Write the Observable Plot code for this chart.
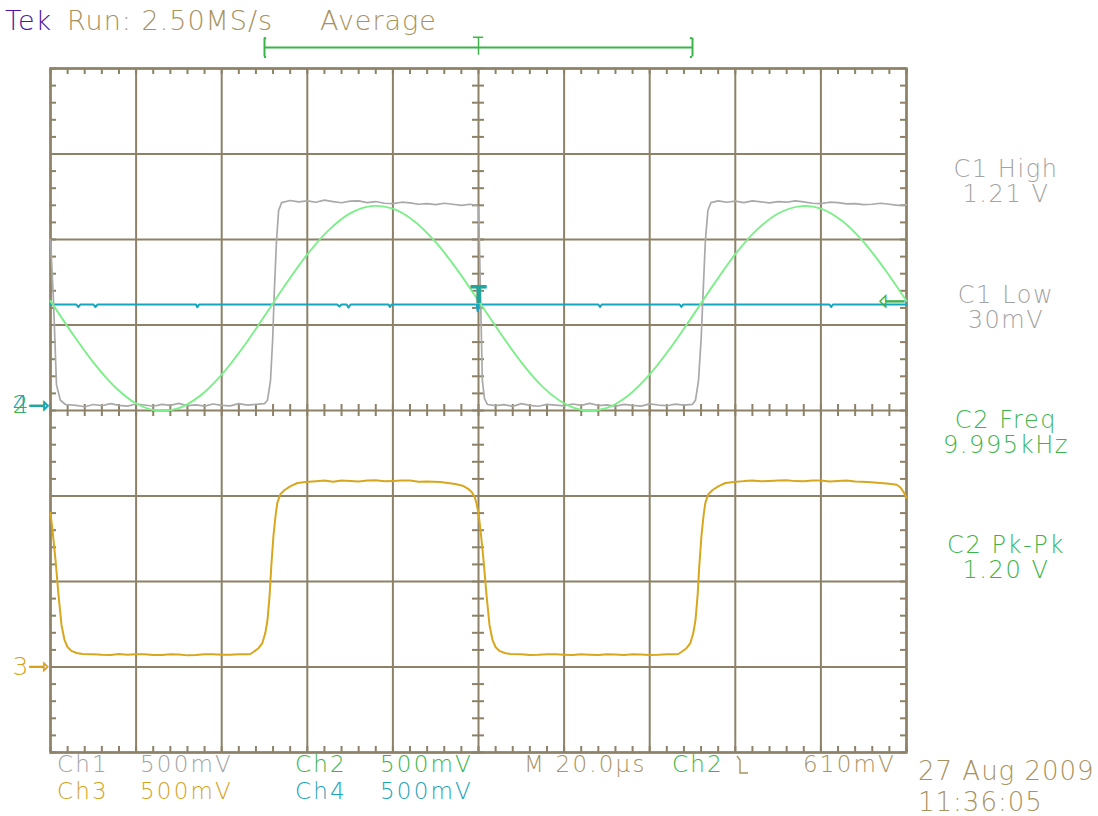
<!DOCTYPE html>
<html>
<head>
<meta charset="utf-8">
<script src="https://cdn.jsdelivr.net/npm/d3@7"></script>
<script src="https://cdn.jsdelivr.net/npm/@observablehq/plot@0.6"></script>
<style>
  body { margin: 0; background: #ffffff; }
  #scope { position: relative; width: 1098px; height: 816px; overflow: hidden;
           font-family: "DejaVu Sans", "Liberation Sans", sans-serif; font-weight: 200; }
  #scope > svg { position: absolute; left: 0; top: 0; }
  .lbl { position: absolute; line-height: 0.8; white-space: pre; letter-spacing: 1px; }
  .ctr { transform: translateX(-50%); text-align: center; }
</style>
</head>
<body>
<div id="scope"></div>
<script>
// Acquisition settings
const voltsPerDiv = 0.5;          // all four channels at 500 mV/div
const timePerDiv = 20;            // µs/div
const triggerTime = 100;          // µs, centre of the screen
const triggerLevel = 0.61;        // V on Ch2, falling edge
const recordWindow = [50, 150];   // µs, bracket shown above the graticule

// Channel names, trace colours and ground positions (in divisions)
const channelNames = ["Ch1", "Ch2", "Ch3", "Ch4"];
const channelColors = ["#a9a9a9", "#7cef89", "#d8a71e", "#15a6bf"];
const channelPositions = [0, 0.06, -3, 0.06];

// Automatic measurements shown at the right
const measureLabels = ["C1 High", "C1 Low", "C2 Freq", "C2 Pk-Pk"];
const measureValues = ["1.21 V", "30mV", "9.995kHz", "1.20 V"];

// Ch1: square wave, [time µs, volts]
const ch1 = [
  [0, 1.00], [0.7, 0.64], [1.4, 0.15], [2.3, 0.06], [3.5, 0.035],
  [6, 0.03], [8, 0.022], [10, 0.035], [12, 0.028], [14, 0.04], [16, 0.03], [18, 0.026], [20, 0.038],
  [22, 0.032], [24, 0.025], [26, 0.036], [28, 0.03], [30, 0.042], [32, 0.028], [34, 0.033], [36, 0.026],
  [38, 0.038], [40, 0.03], [42, 0.027], [44, 0.04], [46, 0.031], [48, 0.036], [50, 0.04],
  [50.7, 0.06], [51.4, 0.175], [51.9, 0.41], [52.3, 0.70], [52.8, 0.99], [53.3, 1.17], [54, 1.216],
  [56, 1.228], [58, 1.22], [60, 1.226], [62, 1.218], [64, 1.23], [66, 1.222], [68, 1.215], [70, 1.224],
  [72, 1.226], [74, 1.216], [76, 1.222], [78, 1.212], [80, 1.21], [82, 1.218], [84, 1.214], [86, 1.206],
  [88, 1.21], [90, 1.204], [92, 1.212], [94, 1.206], [96, 1.2], [98, 1.206], [99.6, 1.2],
  [100, 1.19], [100.2, 0.99], [100.5, 0.64], [100.9, 0.175], [101.4, 0.07], [102.1, 0.035],
  [104, 0.028], [106, 0.034], [108, 0.024], [110, 0.04], [112, 0.03], [114, 0.025], [116, 0.036],
  [118, 0.031], [120, 0.027], [122, 0.038], [124, 0.03], [126, 0.042], [128, 0.029], [130, 0.033],
  [132, 0.025], [134, 0.036], [136, 0.03], [138, 0.026], [140, 0.039], [142, 0.032], [144, 0.028],
  [146, 0.037], [148, 0.031], [150, 0.036],
  [150.7, 0.06], [151.4, 0.175], [152, 0.41], [152.5, 0.70], [153, 0.99], [153.6, 1.17], [154.3, 1.216],
  [156, 1.226], [158, 1.218], [160, 1.224], [162, 1.216], [164, 1.226], [166, 1.22], [168, 1.214],
  [170, 1.222], [172, 1.218], [174, 1.226], [176, 1.22], [178, 1.212], [180, 1.21], [182, 1.218],
  [184, 1.216], [186, 1.208], [188, 1.21], [190, 1.204], [192, 1.206], [194, 1.212], [196, 1.206],
  [198, 1.2], [200, 1.202]
];

// Ch2: sine wave, [time µs, volts]
const ch2 = [
  [0, 0.611], [5, 0.424], [10, 0.251], [15, 0.109], [20, 0.011], [25, -0.031], [30, -0.016],
  [35, 0.057], [40, 0.180], [45, 0.340], [50, 0.523], [55, 0.710], [60, 0.883], [65, 1.025],
  [70, 1.123], [75, 1.165], [80, 1.150], [85, 1.077], [90, 0.954], [95, 0.794], [100, 0.611],
  [105, 0.426], [110, 0.252], [115, 0.108], [120, 0.012], [125, -0.030], [130, -0.015],
  [135, 0.058], [140, 0.181], [145, 0.341], [150, 0.522], [155, 0.709], [160, 0.884], [165, 1.026],
  [170, 1.122], [175, 1.164], [180, 1.151], [185, 1.078], [190, 0.955], [195, 0.793], [200, 0.610]
];

// Ch3: filtered square wave, [time µs, volts]
const ch3 = [
  [0, 0.90], [0.47, 0.80], [1.17, 0.626], [1.87, 0.42], [2.57, 0.246], [3.27, 0.158], [3.97, 0.117],
  [4.9, 0.094], [6.1, 0.082], [7.5, 0.076],
  [10, 0.074], [12, 0.071], [14, 0.07], [16, 0.076], [18, 0.072], [20, 0.074], [22, 0.075], [24, 0.07],
  [26, 0.07], [28, 0.074], [30, 0.073], [32, 0.068], [34, 0.07], [36, 0.075], [38, 0.074], [40, 0.071],
  [42, 0.072], [44, 0.075], [46, 0.074],
  [46.7, 0.076], [47.4, 0.088], [48.6, 0.11], [49.5, 0.14], [50.2, 0.20], [50.7, 0.275], [51.2, 0.42],
  [51.6, 0.596], [52.1, 0.77], [52.6, 0.889], [53, 0.96], [53.7, 1.01], [54.7, 1.035], [56.1, 1.058],
  [57.7, 1.076], [59.6, 1.082],
  [62, 1.086], [64, 1.09], [66, 1.084], [68, 1.09], [70, 1.087], [72, 1.085], [74, 1.09], [76, 1.092],
  [78, 1.086], [80, 1.088], [82, 1.091], [84, 1.09], [86, 1.084], [88, 1.085], [91.1, 1.082],
  [94.6, 1.07], [96.5, 1.058], [97.7, 1.04], [98.4, 1.023], [99.1, 0.994], [99.5, 0.96],
  [100, 0.90], [100.47, 0.80], [101.17, 0.626], [101.87, 0.42], [102.57, 0.246], [103.27, 0.158],
  [103.97, 0.117], [104.9, 0.094], [106.1, 0.082], [107.5, 0.076],
  [110, 0.074], [112, 0.07], [114, 0.071], [116, 0.075], [118, 0.075], [120, 0.072], [122, 0.07],
  [124, 0.074], [126, 0.072], [128, 0.07], [130, 0.074], [132, 0.073], [134, 0.07], [136, 0.075],
  [138, 0.073], [140, 0.07], [142, 0.071], [144, 0.074], [146, 0.075],
  [146.7, 0.076], [147.4, 0.088], [148.6, 0.11], [149.5, 0.14], [150.2, 0.20], [150.7, 0.275],
  [151.2, 0.42], [151.6, 0.596], [152.1, 0.77], [152.6, 0.889], [153, 0.96], [153.7, 1.01],
  [154.7, 1.035], [156.1, 1.058], [157.7, 1.076], [159.6, 1.082],
  [162, 1.087], [164, 1.09], [166, 1.086], [168, 1.088], [170, 1.091], [172, 1.092], [174, 1.087],
  [176, 1.086], [178, 1.09], [180, 1.09], [182, 1.085], [184, 1.088], [186, 1.09], [188, 1.085],
  [191, 1.082], [194.6, 1.075], [196.5, 1.07], [197.7, 1.066], [198.6, 1.05], [199.4, 1.02], [200, 0.99]
];

// Ch4: DC level with small glitches, [time µs, volts]
const ch4 = [
  [0, 0.59], [6, 0.59], [6.5, 0.575], [7, 0.59], [10, 0.59], [10.5, 0.575], [11, 0.59],
  [34, 0.59], [34.3, 0.574], [34.7, 0.59], [67, 0.59], [67.5, 0.578], [68, 0.59],
  [69.2, 0.59], [69.6, 0.572], [70.1, 0.59], [79, 0.59], [79.3, 0.575], [79.7, 0.59],
  [99.6, 0.59], [99.8, 0.55], [100.1, 0.59],
  [128, 0.59], [128.4, 0.575], [128.8, 0.59], [147, 0.59], [147.4, 0.576], [147.8, 0.59],
  [182, 0.59], [182.4, 0.575], [182.8, 0.59], [200, 0.59]
];

// Graticule: 10 x 8 divisions, five minor ticks per division
const majorT = d3.range(0, 201, timePerDiv);
const majorY = d3.range(-4, 5, 1);
const minorT = d3.range(0, 200.001, timePerDiv / 5);
const minorY = d3.range(-4, 4.001, 0.2);

const gridColor = "#8d8268";
const tan = "#a8925e";
const textGreen = "#3cb44a";
const textGray = "#a3a3a3";
const textYellow = "#d5a21b";
const textCyan = "#1ba3b8";

// Convert channel samples to screen divisions
const traces = [ch1, ch2, ch3, ch4].map((samples, i) =>
  samples.map(([t, v]) => ({t, y: channelPositions[i] + v / voltsPerDiv, ch: channelNames[i]}))
);
const trigDiv = channelPositions[1] + triggerLevel / voltsPerDiv;

// Ground reference markers at the left edge
const groundMarkers = [
  {label: "2", y: channelPositions[1], color: textGreen},
  {label: "4", y: channelPositions[3], color: textCyan},
  {label: "3", y: channelPositions[2], color: textYellow}
];

const tickDivY = 6 / 85.5;      // minor tick length in divisions (vertical)
const tickDivT = 6 * 200 / 856; // minor tick length in µs (horizontal)
const barY = 4.245;             // record-window bar above the graticule

const plot = Plot.plot({
  width: 1098,
  height: 816,
  marginLeft: 50,
  marginRight: 192,
  marginTop: 68,
  marginBottom: 64,
  x: {domain: [0, 200], axis: null},
  y: {domain: [-4, 4], axis: null},
  style: {background: "transparent", overflow: "visible", fontFamily: "DejaVu Sans", fontWeight: 200},
  marks: [
    // major graticule
    Plot.ruleX(majorT, {stroke: gridColor, strokeWidth: 2}),
    Plot.ruleY(majorY, {stroke: gridColor, strokeWidth: 2}),
    // minor ticks on the border and the centre axes
    Plot.ruleX(minorT, {x: d => d, y1: 4, y2: 4 - tickDivY, stroke: gridColor, strokeWidth: 2}),
    Plot.ruleX(minorT, {x: d => d, y1: -4, y2: -4 + tickDivY, stroke: gridColor, strokeWidth: 2}),
    Plot.ruleX(minorT, {x: d => d, y1: -tickDivY, y2: tickDivY, stroke: gridColor, strokeWidth: 2}),
    Plot.ruleY(minorY, {y: d => d, x1: 0, x2: tickDivT, stroke: gridColor, strokeWidth: 2}),
    Plot.ruleY(minorY, {y: d => d, x1: 200, x2: 200 - tickDivT, stroke: gridColor, strokeWidth: 2}),
    Plot.ruleY(minorY, {y: d => d, x1: 100 - tickDivT, x2: 100 + tickDivT, stroke: gridColor, strokeWidth: 2}),
    Plot.frame({stroke: gridColor, strokeWidth: 2.5}),

    // waveforms
    Plot.line(traces[3], {x: "t", y: "y", stroke: channelColors[3], strokeWidth: 2}),
    Plot.line(traces[0], {x: "t", y: "y", stroke: channelColors[0], strokeWidth: 1.7}),
    Plot.line(traces[1], {x: "t", y: "y", stroke: channelColors[1], strokeWidth: 1.9, curve: "catmull-rom"}),
    Plot.line(traces[2], {x: "t", y: "y", stroke: channelColors[2], strokeWidth: 2}),

    // trigger point on the trace and trigger level arrow on the right edge
    Plot.text([triggerTime], {x: d => d, y: trigDiv, text: () => "T", lineAnchor: "bottom",
      fill: "#1fa69a", fontSize: 24, fontWeight: 700, dy: 2}),
    Plot.text([triggerLevel], {x: 200, y: trigDiv, text: () => "\u21FD", textAnchor: "end",
      dx: -1, fill: textGreen, fontSize: 34}),

    // ground markers left of the graticule
    Plot.text(groundMarkers, {x: 0, y: "y", text: "label", fill: "color", textAnchor: "end",
      dx: -22, fontSize: 25}),
    Plot.text(groundMarkers, {x: 0, y: "y", text: () => "\u21FE", fill: "color", textAnchor: "end",
      dx: -1, fontSize: 26, fontWeight: 700}),

    // record window bracket with trigger position
    Plot.ruleY([barY], {x1: recordWindow[0], x2: recordWindow[1], stroke: textGreen, strokeWidth: 2}),
    Plot.ruleX(recordWindow, {x: d => d, y1: barY - 0.11, y2: barY + 0.11, stroke: textGreen, strokeWidth: 2}),
    Plot.ruleY([barY - 0.11, barY + 0.11], {y: d => d, x1: recordWindow[0], x2: recordWindow[0] + 0.5, stroke: textGreen, strokeWidth: 2}),
    Plot.ruleY([barY - 0.11, barY + 0.11], {y: d => d, x1: recordWindow[1] - 0.5, x2: recordWindow[1], stroke: textGreen, strokeWidth: 2}),
    Plot.ruleX([triggerTime], {x: d => d, y1: barY - 0.09, y2: barY + 0.12, stroke: textGreen, strokeWidth: 1.5}),
    Plot.ruleY([barY + 0.12], {y: d => d, x1: triggerTime - 1.2, x2: triggerTime + 1.2, stroke: textGreen, strokeWidth: 1.5})
  ]
});

const scope = document.getElementById("scope");
scope.appendChild(plot);

// Readout text around the graticule.
// cy is the cap centre of the first line; lineHeight is in pixels.
function label(text, x, cy, size, color, centred = false, spacing = 1, lineHeight = 0.8 * size) {
  const el = document.createElement("div");
  el.className = "lbl" + (centred ? " ctr" : "");
  el.textContent = text;
  el.style.left = x + "px";
  el.style.top = (cy - lineHeight / 2 + 0.019 * size) + "px";
  el.style.fontSize = size + "px";
  el.style.lineHeight = lineHeight + "px";
  el.style.color = color;
  el.style.letterSpacing = spacing + "px";
  scope.appendChild(el);
  return el;
}

// status line
label("Tek", 5, 20, 27, "#5012a0");
label("Run: 2.50MS/s", 67, 20, 27, tan);
label("Average", 320, 20, 27, tan);

// measurements: name above value, one block each
const measureColors = [textGray, textGray, textGreen, textGreen];
const measureRows = [169, 295, 420, 545];
measureLabels.forEach((name, i) =>
  label(name + "\n" + measureValues[i], 1006, measureRows[i], 24, measureColors[i], true, 1.6, 25)
);

// channel settings, two rows
const rowSize = 23, rowSpacing = 2.2, row1 = 764, row2 = 791;
label(channelNames[0], 57, row1, rowSize, textGray, false, rowSpacing);
label("500mV", 140, row1, rowSize, textGray, false, rowSpacing);
label(channelNames[1], 295, row1, rowSize, textGreen, false, rowSpacing);
label("500mV", 380, row1, rowSize, textGreen, false, rowSpacing);
label(channelNames[2], 57, row2, rowSize, textYellow, false, rowSpacing);
label("500mV", 140, row2, rowSize, textYellow, false, rowSpacing);
label(channelNames[3], 295, row2, rowSize, textCyan, false, rowSpacing);
label("500mV", 380, row2, rowSize, textCyan, false, rowSpacing);
label("M 20.0\u00B5s", 524, row1, rowSize, tan, false, rowSpacing);
label("Ch2", 672, row1, rowSize, textGreen, false, rowSpacing);
label("610mV", 803, row1, rowSize, tan, false, rowSpacing);

// falling-edge trigger symbol
const slope = document.createElement("div");
slope.style.position = "absolute";
slope.style.left = "736px";
slope.style.top = "754px";
slope.innerHTML = '<svg width="14" height="22" style="display:block"><path d="M1,2 L4,6 L4,19 L12,19" fill="none" stroke="' + tan + '" stroke-width="1.4"/></svg>';
scope.appendChild(slope);

// date and time
label("27 Aug 2009", 918, 771, 26, tan);
label("11:36:05", 918, 802, 26, tan);
</script>
</body>
</html>
